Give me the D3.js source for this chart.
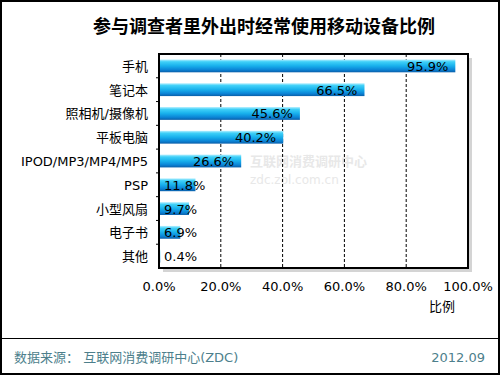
<!DOCTYPE html>
<html>
<head>
<meta charset="utf-8">
<script src="https://cdn.jsdelivr.net/npm/d3@7"></script>
<style>
  body { margin: 0; background: #fff; }
  svg { display: block; font-family: "DejaVu Sans", "Noto Sans CJK SC", sans-serif; }
</style>
</head>
<body>
<svg width="500" height="375"></svg>
<script>
// data
const categories = ["手机", "笔记本", "照相机/摄像机", "平板电脑", "IPOD/MP3/MP4/MP5", "PSP", "小型风扇", "电子书", "其他"];
const shares = [95.9, 66.5, 45.6, 40.2, 26.6, 11.8, 9.7, 6.9, 0.4];
const ticks = [0, 20, 40, 60, 80, 100];

const width = 500, height = 375;
const margin = { left: 159, right: 32, top: 54, bottom: 107 };
const svg = d3.select("svg");

// outer frame
svg.append("rect")
  .attr("x", 1).attr("y", 1)
  .attr("width", width - 2).attr("height", height - 2)
  .attr("fill", "none").attr("stroke", "#000").attr("stroke-width", 2);

// title
svg.append("text")
  .attr("x", 264).attr("y", 33)
  .attr("text-anchor", "middle")
  .attr("font-size", 18).attr("font-weight", "bold")
  .text("参与调查者里外出时经常使用移动设备比例");

const x = d3.scaleLinear().domain([0, 100]).range([margin.left, width - margin.right]);
const y = d3.scaleBand().domain(categories).range([margin.top, height - margin.bottom]).paddingInner(0.46).paddingOuter(0.23);
const plotTop = margin.top, plotBottom = height - margin.bottom;

// gradient for bars
const defs = svg.append("defs");
const grad = defs.append("linearGradient").attr("id", "barGrad")
  .attr("x1", 0).attr("y1", 0).attr("x2", 0).attr("y2", 1);
grad.append("stop").attr("offset", "0%").attr("stop-color", "#b8f0ff");
grad.append("stop").attr("offset", "18%").attr("stop-color", "#3fd0f8");
grad.append("stop").attr("offset", "50%").attr("stop-color", "#18b0ec");
grad.append("stop").attr("offset", "80%").attr("stop-color", "#0b84d6");
grad.append("stop").attr("offset", "100%").attr("stop-color", "#0a5ea8");

// shadow behind plot frame
svg.append("rect")
  .attr("x", x(0) + 4).attr("y", plotTop + 4)
  .attr("width", x(100) - x(0)).attr("height", plotBottom - plotTop)
  .attr("fill", "#d4d4d4");
svg.append("rect")
  .attr("x", x(0)).attr("y", plotTop)
  .attr("width", x(100) - x(0)).attr("height", plotBottom - plotTop)
  .attr("fill", "#fff");

// watermark
const wm = svg.append("g").attr("fill", "#e8e8e8");
wm.append("text").attr("x", 250).attr("y", 166).attr("font-size", 13).attr("font-weight", "bold").text("互联网消费调研中心");
wm.append("text").attr("x", 250).attr("y", 184).attr("font-size", 12).text("zdc.zol.com.cn");

// dashed gridlines
svg.append("g").selectAll("line")
  .data(ticks.slice(1, -1))
  .join("line")
  .attr("x1", d => x(d)).attr("x2", d => x(d))
  .attr("y1", plotTop).attr("y2", plotBottom)
  .attr("stroke", "#000").attr("stroke-dasharray", "3,2");

// bars
svg.append("g").selectAll("rect")
  .data(categories)
  .join("rect")
  .attr("x", x(0))
  .attr("y", d => y(d))
  .attr("width", (d, i) => x(shares[i]) - x(0))
  .attr("height", y.bandwidth())
  .attr("fill", "url(#barGrad)");

// value labels
const labels = svg.append("g").selectAll("text")
  .data(categories)
  .join("text")
  .attr("text-anchor", "end")
  .attr("font-size", 13)
  .attr("y", d => y(d) + y.bandwidth() / 2 + 5)
  .text((d, i) => shares[i].toFixed(1) + "%");
labels.attr("x", function (d, i) {
  const w = this.getComputedTextLength();
  return Math.max(x(shares[i]) - 7, x(0) + 5 + w);
});

// plot frame
svg.append("rect")
  .attr("x", x(0)).attr("y", plotTop)
  .attr("width", x(100) - x(0)).attr("height", plotBottom - plotTop)
  .attr("fill", "none").attr("stroke", "#000").attr("stroke-width", 2);

// category ticks on left axis
const step = (plotBottom - plotTop) / categories.length;
svg.append("g").selectAll("line")
  .data(d3.range(1, categories.length))
  .join("line")
  .attr("x1", x(0) - 3).attr("x2", x(0))
  .attr("y1", d => plotTop + d * step).attr("y2", d => plotTop + d * step)
  .attr("stroke", "#000");

// category labels
svg.append("g").selectAll("text")
  .data(categories)
  .join("text")
  .attr("x", 148)
  .attr("y", d => y(d) + y.bandwidth() / 2 + 5)
  .attr("text-anchor", "end")
  .attr("font-size", 13)
  .text(d => d);

// x axis labels
svg.append("g").selectAll("text")
  .data(ticks)
  .join("text")
  .attr("x", d => x(d))
  .attr("y", 291)
  .attr("text-anchor", "middle")
  .attr("font-size", 13)
  .text(d => d.toFixed(1) + "%");

svg.append("text")
  .attr("x", 442).attr("y", 311)
  .attr("text-anchor", "middle")
  .attr("font-size", 13)
  .text("比例");

// footer
svg.append("line")
  .attr("x1", 0).attr("x2", width)
  .attr("y1", 338.5).attr("y2", 338.5)
  .attr("stroke", "#000");
svg.append("text")
  .attr("x", 14).attr("y", 362)
  .attr("font-size", 13).attr("fill", "#4d7f8c")
  .text("数据来源： 互联网消费调研中心(ZDC)");
svg.append("text")
  .attr("x", 485).attr("y", 362)
  .attr("text-anchor", "end")
  .attr("font-size", 13).attr("fill", "#4d7f8c")
  .text("2012.09");
</script>
</body>
</html>
